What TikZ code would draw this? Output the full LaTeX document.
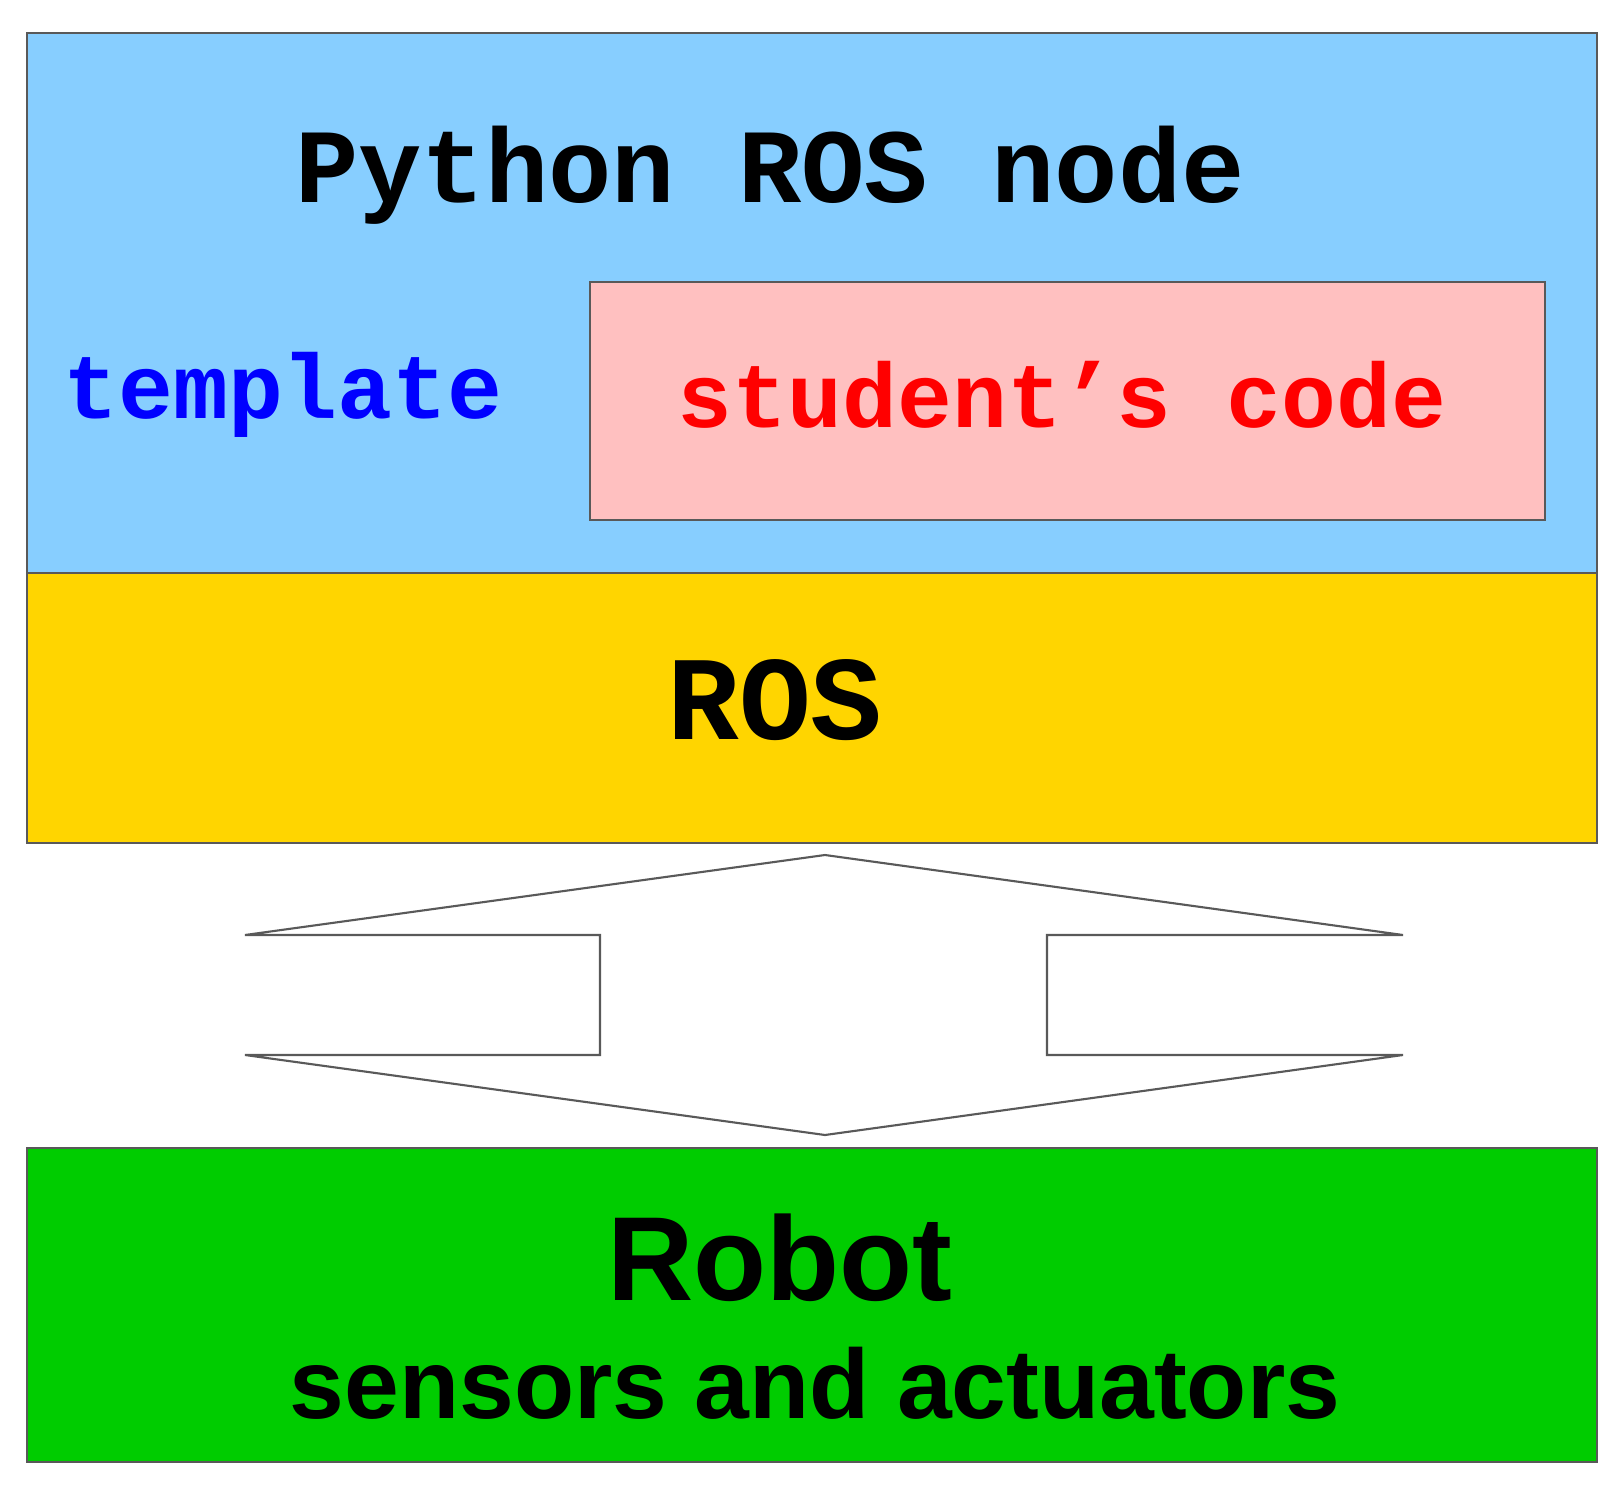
\documentclass[tikz,border=0pt]{standalone}
\usepackage{fontspec}
\setmainfont{Liberation Sans}
\newfontfamily\mono{Liberation Mono}
\definecolor{skyblue}{HTML}{87CEFF}
\definecolor{pinkbox}{HTML}{FFC0C0}
\definecolor{gold}{HTML}{FFD500}
\definecolor{robotgreen}{HTML}{00CC00}
\tikzset{
  layer/.style={draw=gray!70!black, line width=0.6pt},
  tt/.style={font=\mono\bfseries},
}
\begin{document}
\begin{tikzpicture}[x=0.01cm,y=-0.01cm]
\useasboundingbox (0,0) rectangle (1621,1503);
% layers
\path[layer, fill=skyblue] (27,33) rectangle (1597,573);
\path[layer, fill=pinkbox] (590,282) rectangle (1545,520);
\path[layer, fill=gold] (27,573) rectangle (1597,843);
\path[layer, fill=robotgreen] (27,1148) rectangle (1597,1462);
% texts
\node[tt, font=\mono\bfseries\fontsize{30}{30}\selectfont] (py) at (770,175) {Python ROS node};
\node[tt, text=blue, font=\mono\bfseries\fontsize{26}{26}\selectfont] (tpl) at (283,395) {template};
\node[tt, text=red, font=\mono\bfseries\fontsize{26}{26}\selectfont] (stu) at (1062,395) {student’s code};
\node[tt, font=\mono\bfseries\fontsize{34}{34}\selectfont] (ros) at (775,700) {ROS};
\node[font=\bfseries\fontsize{34}{34}\selectfont] (robot) at (780,1258) {Robot};
\node[font=\bfseries\fontsize{28}{28}\selectfont] (sens) at (815,1383) {sensors and actuators};
% double arrow
\draw[gray!70!black, line width=0.6pt, fill=white]
  (825,855) -- (1403,935) -- (1047,935) -- (1047,1055) -- (1403,1055)
  -- (825,1135) -- (245,1055) -- (600,1055) -- (600,935) -- (245,935) -- cycle;
\end{tikzpicture}
\end{document}
